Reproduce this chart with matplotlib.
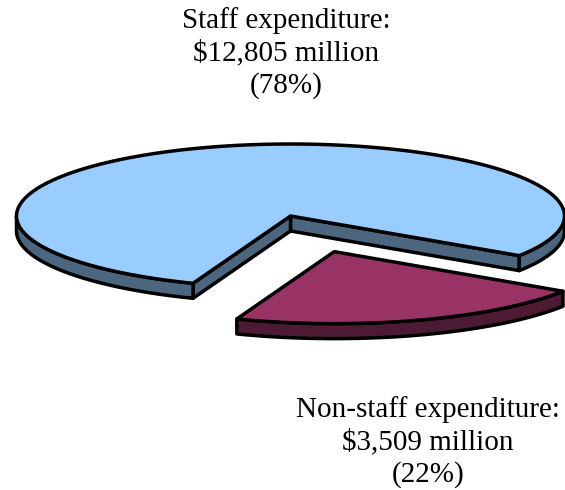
import numpy as np
import matplotlib
matplotlib.use("Agg")
import matplotlib.pyplot as plt
from matplotlib.patches import Polygon

# ---- data ----
categories = ["Staff expenditure", "Non-staff expenditure"]
values_musd = [12805, 3509]
percents = [78, 22]
top_colors = ["#99CCFF", "#993366"]
side_colors = ["#4D6680", "#4D1A33"]
explode = [0.0, 0.52]

# ---- layout (pixel space) ----
W, H = 565, 490
cx, cy = 290.5, 216    # pie centre
a, b = 274, 72         # ellipse semi axes
depth = 15             # thickness
start_deg = -33.4      # angle where first slice begins (counter-clockwise)
lw = 2.5

fig = plt.figure(figsize=(W / 100, H / 100), dpi=100)
ax = fig.add_axes([0, 0, 1, 1])
ax.set_xlim(0, W)
ax.set_ylim(H, 0)
ax.axis("off")


def proj(u, v, ox, oy, dz=0.0):
    return np.column_stack([ox + a * np.asarray(u), oy - b * np.asarray(v) + dz])


total = float(sum(values_musd))
theta0 = np.deg2rad(start_deg)
slices = []
for i, val in enumerate(values_musd):
    span = 2 * np.pi * val / total
    slices.append((theta0, theta0 + span))
    theta0 += span

for i, (ts, te) in enumerate(slices):
    mid = 0.5 * (ts + te)
    ox = cx + a * explode[i] * np.cos(mid)
    oy = cy - b * explode[i] * np.sin(mid)
    faces = []
    # radial faces
    for ang, nrm in ((ts, ts - np.pi / 2), (te, te + np.pi / 2)):
        if np.sin(nrm) < 0:
            p_top = proj([0, np.cos(ang)], [0, np.sin(ang)], ox, oy)
            p_bot = proj([np.cos(ang), 0], [np.sin(ang), 0], ox, oy, depth)
            faces.append(np.vstack([p_top, p_bot]))
    # outer arc faces (front part, sin < 0)
    th = np.linspace(ts, te, 600)
    front = np.sin(th) < 0
    idx = np.where(front)[0]
    if len(idx):
        groups = np.split(idx, np.where(np.diff(idx) > 1)[0] + 1)
        for g in groups:
            t = th[g]
            top = proj(np.cos(t), np.sin(t), ox, oy)
            bot = proj(np.cos(t[::-1]), np.sin(t[::-1]), ox, oy, depth)
            faces.append(np.vstack([top, bot]))
    for f in faces:
        ax.add_patch(Polygon(f, closed=True, facecolor=side_colors[i],
                             edgecolor="black", linewidth=lw, joinstyle="round"))
    t = np.linspace(ts, te, 600)
    top = np.vstack([[ox, oy], proj(np.cos(t), np.sin(t), ox, oy)])
    ax.add_patch(Polygon(top, closed=True, facecolor=top_colors[i],
                         edgecolor="black", linewidth=lw, joinstyle="round"))

# ---- labels ----
label_pos = [(286, 53), (428, 442)]
for i, name in enumerate(categories):
    txt = f"{name}:\n${values_musd[i]:,} million\n({percents[i]}%)"
    ax.text(label_pos[i][0], label_pos[i][1], txt, ha="center", va="center",
            fontsize=21, family="Liberation Serif", linespacing=1.3)

fig.savefig("out.png", dpi=100)
